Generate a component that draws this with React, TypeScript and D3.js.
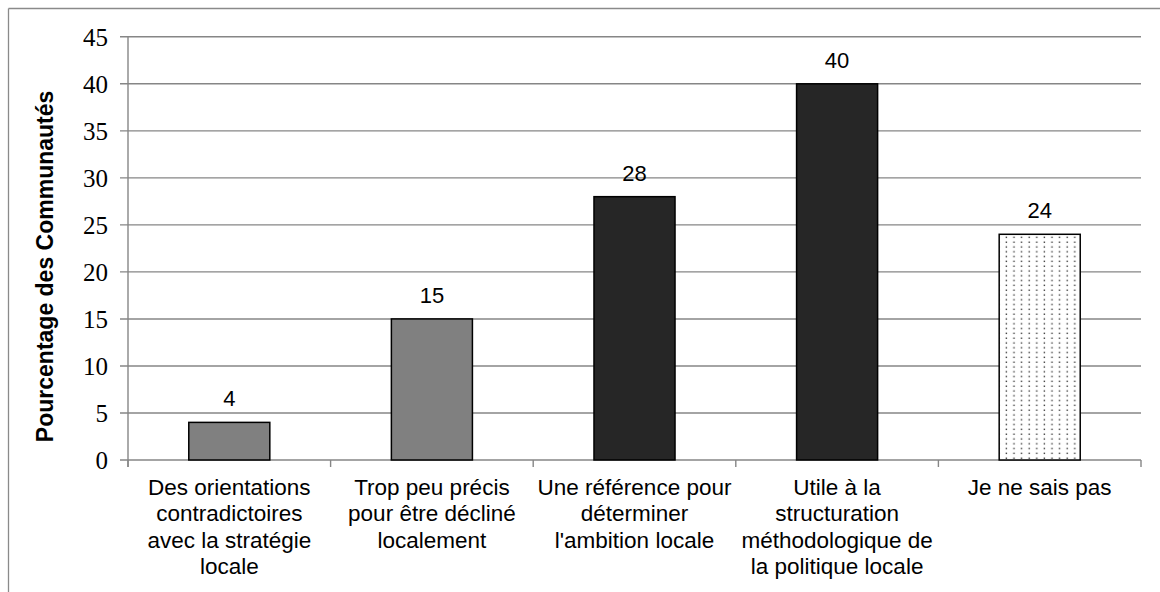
import React from "react";
import * as d3 from "d3";

const categories: string[][] = [
  ["Des orientations", "contradictoires", "avec la stratégie", "locale"],
  ["Trop peu précis", "pour être décliné", "localement"],
  ["Une référence pour", "déterminer", "l'ambition locale"],
  ["Utile à la", "structuration", "méthodologique de", "la politique locale"],
  ["Je ne sais pas"],
];
const values: number[] = [4, 15, 28, 40, 24];
const fills: string[] = ["#808080", "#808080", "#262626", "#262626", "url(#dots)"];
const yTicks: number[] = [0, 5, 10, 15, 20, 25, 30, 35, 40, 45];
const yTitle = "Pourcentage des Communautés";

const W = 1160;
const H = 592;
const left = 128;
const right = 1141;
const top = 36.8;
const bottom = 460;

export default function App() {
  const keys = categories.map((_, i) => String(i));
  const x = d3.scaleBand<string>().domain(keys).range([left, right]).paddingInner(0.6).paddingOuter(0.3);
  const y = d3.scaleLinear().domain([0, 45]).range([bottom, top]);
  const step = x.step();
  const grid = "#868686";
  const sans = "'Liberation Sans', Arial, sans-serif";
  const serif = "'Liberation Serif', 'Times New Roman', serif";

  return (
    <svg width={W} height={H} style={{ position: "absolute", left: 0, top: 0, background: "#fff" }}>
      <defs>
        <pattern id="dots" width={7.6} height={4.8} patternUnits="userSpaceOnUse">
          <rect width={7.6} height={4.8} fill="#fff" />
          <rect x={2.5} y={1.5} width={1.4} height={1.4} fill="#3a3a3a" />
        </pattern>
      </defs>
      {/* outer frame */}
      <line x1={8.5} y1={8.5} x2={W} y2={8.5} stroke="#8a8a8a" strokeWidth={1.3} />
      <line x1={8.5} y1={8.5} x2={8.5} y2={H} stroke="#8a8a8a" strokeWidth={1.3} />

      {/* gridlines and y ticks */}
      {yTicks.map((t) => (
        <g key={t}>
          <line x1={left - 8} x2={right} y1={y(t)} y2={y(t)} stroke={grid} strokeWidth={1.4} />
          <text x={108} y={y(t)} dy="0.35em" textAnchor="end" fontFamily={serif} fontSize={25} fill="#000">
            {t}
          </text>
        </g>
      ))}
      {/* y axis */}
      <line x1={left} x2={left} y1={top} y2={bottom + 7} stroke={grid} strokeWidth={1.4} />
      {/* x ticks */}
      {d3.range(categories.length + 1).map((i) => (
        <line key={i} x1={left + i * step} x2={left + i * step} y1={bottom} y2={bottom + 7} stroke={grid} strokeWidth={1.4} />
      ))}

      {/* bars */}
      {values.map((v, i) => (
        <g key={i}>
          <rect
            x={x(String(i))!}
            y={y(v)}
            width={x.bandwidth()}
            height={bottom - y(v)}
            fill={fills[i]}
            stroke="#000"
            strokeWidth={1.5}
          />
          <text x={x(String(i))! + x.bandwidth() / 2} y={y(v) - 16} textAnchor="middle" fontFamily={sans} fontSize={22} fill="#000">
            {v}
          </text>
        </g>
      ))}

      {/* x labels */}
      {categories.map((lines, i) => (
        <text key={i} x={x(String(i))! + x.bandwidth() / 2} y={495} textAnchor="middle" fontFamily={sans} fontSize={22.5} fill="#000">
          {lines.map((l, j) => (
            <tspan key={j} x={x(String(i))! + x.bandwidth() / 2} dy={j === 0 ? 0 : 26.4}>
              {l}
            </tspan>
          ))}
        </text>
      ))}

      {/* y title */}
      <text
        transform={`translate(53, ${(top + bottom) / 2 + 18}) rotate(-90)`}
        textAnchor="middle"
        fontFamily={sans}
        fontWeight="bold"
        fontSize={23}
        fill="#000"
      >
        {yTitle}
      </text>
    </svg>
  );
}
